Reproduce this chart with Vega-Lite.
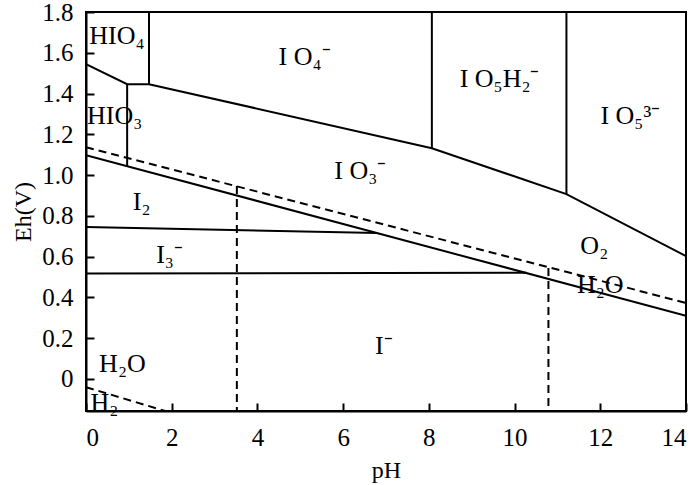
{
  "$schema": "https://vega.github.io/schema/vega-lite/v6.json",
  "width": 600,
  "height": 399,
  "autosize": "none",
  "padding": {"left": 86, "top": 12, "right": 14, "bottom": 74},
  "background": "white",
  "config": {
    "view": {"stroke": "black", "strokeWidth": 2},
    "font": "Liberation Serif"
  },
  "datasets": {
    "solid": [
      {"seg": "A", "i": 0, "pH": 0, "Eh": 1.544},
      {"seg": "A", "i": 1, "pH": 0.96, "Eh": 1.446},
      {"seg": "A", "i": 2, "pH": 1.47, "Eh": 1.446},
      {"seg": "A", "i": 3, "pH": 8.07, "Eh": 1.132},
      {"seg": "A", "i": 4, "pH": 11.21, "Eh": 0.907},
      {"seg": "A", "i": 5, "pH": 14, "Eh": 0.603},
      {"seg": "B", "i": 0, "pH": 1.47, "Eh": 1.8},
      {"seg": "B", "i": 1, "pH": 1.47, "Eh": 1.446},
      {"seg": "C", "i": 0, "pH": 8.07, "Eh": 1.8},
      {"seg": "C", "i": 1, "pH": 8.07, "Eh": 1.132},
      {"seg": "D", "i": 0, "pH": 11.21, "Eh": 1.8},
      {"seg": "D", "i": 1, "pH": 11.21, "Eh": 0.907},
      {"seg": "E", "i": 0, "pH": 0.96, "Eh": 1.446},
      {"seg": "E", "i": 1, "pH": 0.96, "Eh": 1.044},
      {"seg": "F", "i": 0, "pH": 0, "Eh": 1.098},
      {"seg": "F", "i": 1, "pH": 14, "Eh": 0.31},
      {"seg": "G", "i": 0, "pH": 0, "Eh": 0.745},
      {"seg": "G", "i": 1, "pH": 6.8, "Eh": 0.716},
      {"seg": "H", "i": 0, "pH": 0, "Eh": 0.518},
      {"seg": "H", "i": 1, "pH": 10.28, "Eh": 0.521}
    ],
    "dashed": [
      {"seg": "I", "i": 0, "pH": 0, "Eh": 1.137},
      {"seg": "I", "i": 1, "pH": 14, "Eh": 0.373},
      {"seg": "J", "i": 0, "pH": 3.52, "Eh": 0.946},
      {"seg": "J", "i": 1, "pH": 3.52, "Eh": -0.157},
      {"seg": "K", "i": 0, "pH": 10.79, "Eh": 0.544},
      {"seg": "K", "i": 1, "pH": 10.79, "Eh": -0.157},
      {"seg": "L", "i": 0, "pH": 0, "Eh": -0.04},
      {"seg": "L", "i": 1, "pH": 1.85, "Eh": -0.157}
    ],
    "labels": [
      {"label": "HIO₄", "pH": 0.72, "Eh": 1.68},
      {"label": "HIO₃", "pH": 0.67, "Eh": 1.29},
      {"label": "I O₄⁻", "pH": 5.1, "Eh": 1.58},
      {"label": "I O₅H₂⁻", "pH": 9.65, "Eh": 1.47},
      {"label": "I O₅³⁻", "pH": 12.7, "Eh": 1.29},
      {"label": "I O₃⁻", "pH": 6.4, "Eh": 1.02},
      {"label": "I₂", "pH": 1.3, "Eh": 0.87},
      {"label": "I₃⁻", "pH": 1.95, "Eh": 0.61},
      {"label": "I⁻", "pH": 6.95, "Eh": 0.16},
      {"label": "O₂", "pH": 11.86, "Eh": 0.65},
      {"label": "H₂O", "pH": 12.0, "Eh": 0.46},
      {"label": "H₂O", "pH": 0.85, "Eh": 0.075},
      {"label": "H₂", "pH": 0.43, "Eh": -0.12}
    ]
  },
  "layer": [
    {
      "data": {"name": "solid"},
      "mark": {"type": "line", "color": "black", "strokeWidth": 2, "clip": true},
      "encoding": {
        "x": {"field": "pH", "type": "quantitative", "scale": {"domain": [0, 14], "nice": false},
              "axis": {"values": [0, 2, 4, 6, 8, 10, 12, 14], "title": "pH", "grid": false,
                       "domainColor": "black", "domainWidth": 2, "tickColor": "black", "tickWidth": 2, "tickSize": -8,
                       "labelFont": "Liberation Serif", "labelFontSize": 25, "labelColor": "black", "labelPadding": 22,
                       "titleFont": "Liberation Serif", "titleFontSize": 24, "titleFontWeight": "normal", "titleColor": "black", "titlePadding": 8}},
        "y": {"field": "Eh", "type": "quantitative", "scale": {"domain": [-0.157, 1.8], "nice": false, "zero": false},
              "axis": {"values": [0, 0.2, 0.4, 0.6, 0.8, 1.0, 1.2, 1.4, 1.6, 1.8], "title": "Eh(V)", "grid": false,
                       "domainColor": "black", "domainWidth": 2, "tickColor": "black", "tickWidth": 2, "tickSize": -8,
                       "labelFont": "Liberation Serif", "labelFontSize": 25, "labelColor": "black", "labelPadding": 21,
                       "titleFont": "Liberation Serif", "titleFontSize": 24, "titleFontWeight": "normal", "titleColor": "black", "titlePadding": 6,
                       "labelExpr": "datum.value == 0 ? '0' : format(datum.value, '.1f')"}},
        "detail": {"field": "seg"},
        "order": {"field": "i"}
      }
    },
    {
      "data": {"name": "dashed"},
      "mark": {"type": "line", "color": "black", "strokeWidth": 2, "strokeDash": [8, 5], "clip": true},
      "encoding": {
        "x": {"field": "pH", "type": "quantitative"},
        "y": {"field": "Eh", "type": "quantitative"},
        "detail": {"field": "seg"},
        "order": {"field": "i"}
      }
    },
    {
      "data": {"name": "labels"},
      "mark": {"type": "text", "font": "Liberation Serif", "fontSize": 26, "color": "black", "align": "center", "baseline": "middle"},
      "encoding": {
        "x": {"field": "pH", "type": "quantitative"},
        "y": {"field": "Eh", "type": "quantitative"},
        "text": {"field": "label"}
      }
    }
  ]
}
